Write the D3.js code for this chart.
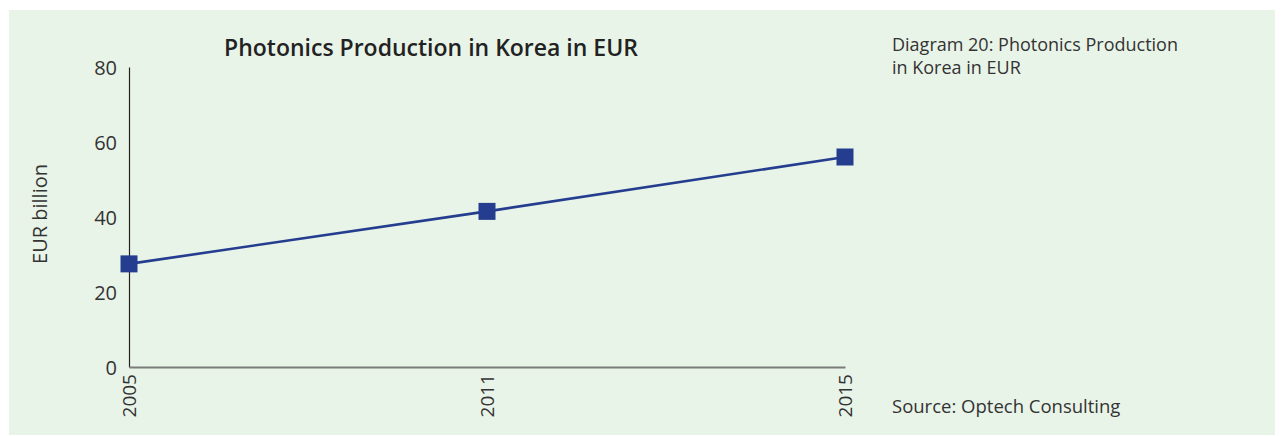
<!DOCTYPE html>
<html>
<head>
<meta charset="utf-8">
<script src="https://cdn.jsdelivr.net/npm/d3@7"></script>
<style>
  body { margin: 0; background: #fff; }
  svg text { font-family: "Open Sans", Lato, sans-serif; }
</style>
</head>
<body>
<div id="chart1"></div>
<script>
var years = ["2005", "2011", "2015"],
    production = [27.5, 41.5, 56],
    yTicks = [0, 20, 40, 60, 80];

var W = 1284, H = 436,
    margin = { top: 67, right: 439, bottom: 69, left: 129 },
    width = W - margin.left - margin.right,
    height = H - margin.top - margin.bottom;

var svg = d3.select("#chart1").append("svg")
  .attr("width", W)
  .attr("height", H);

// panel
svg.append("rect")
  .attr("x", 9).attr("y", 10)
  .attr("width", 1266).attr("height", 425)
  .attr("fill", "#e9f4e8");

var xScale = d3.scalePoint()
  .domain(years)
  .range([0, width])
  .padding(0);

var yScale = d3.scaleLinear()
  .domain([0, 80])
  .range([height, 0]);

var g = svg.append("g")
  .attr("transform", "translate(" + margin.left + "," + margin.top + ")");

// y axis
var yGuide = g.append("g")
  .call(d3.axisLeft(yScale).tickValues(yTicks).tickSize(0).tickPadding(12));
yGuide.select(".domain").attr("stroke", "#222").attr("stroke-width", 1.2);
yGuide.selectAll("text")
  .attr("fill", "#333")
  .style("font-size", "20px")
  .attr("dy", "0.36em");

// x axis
var xGuide = g.append("g")
  .attr("transform", "translate(0," + height + ")")
  .call(d3.axisBottom(xScale).tickSize(0).tickSizeOuter(0));
xGuide.select(".domain").attr("stroke", "#7a7d79").attr("stroke-width", 2);
xGuide.selectAll("text")
  .attr("fill", "#333")
  .style("font-size", "19px")
  .attr("transform", "rotate(-90)")
  .attr("text-anchor", "end")
  .attr("x", -7)
  .attr("y", 0)
  .attr("dy", "0.36em");

// line
var line = d3.line()
  .x(function(d, i) { return xScale(years[i]); })
  .y(function(d) { return yScale(d); });

g.append("path")
  .datum(production)
  .attr("fill", "none")
  .attr("stroke", "#253d8f")
  .attr("stroke-width", 2.6)
  .attr("d", line);

var size = 17;
g.selectAll("rect.marker").data(production)
  .enter().append("rect")
  .attr("class", "marker")
  .attr("x", function(d, i) { return xScale(years[i]) - size / 2; })
  .attr("y", function(d) { return yScale(d) - size / 2; })
  .attr("width", size)
  .attr("height", size)
  .attr("fill", "#253d8f");

// titles
svg.append("text")
  .attr("x", 431).attr("y", 56)
  .attr("text-anchor", "middle")
  .attr("fill", "#222")
  .style("font-size", "23px")
  .style("font-weight", "600")
  .text("Photonics Production in Korea in EUR");

svg.append("text")
  .attr("transform", "translate(47,214) rotate(-90)")
  .attr("text-anchor", "middle")
  .attr("fill", "#333")
  .style("font-size", "20px")
  .text("EUR billion");

svg.append("text")
  .attr("x", 892).attr("y", 51)
  .attr("fill", "#333")
  .style("font-size", "18px")
  .text("Diagram 20: Photonics Production");

svg.append("text")
  .attr("x", 892).attr("y", 74)
  .attr("fill", "#333")
  .style("font-size", "18px")
  .text("in Korea in EUR");

svg.append("text")
  .attr("x", 892).attr("y", 413)
  .attr("fill", "#333")
  .style("font-size", "18.5px")
  .text("Source: Optech Consulting");
</script>
</body>
</html>
